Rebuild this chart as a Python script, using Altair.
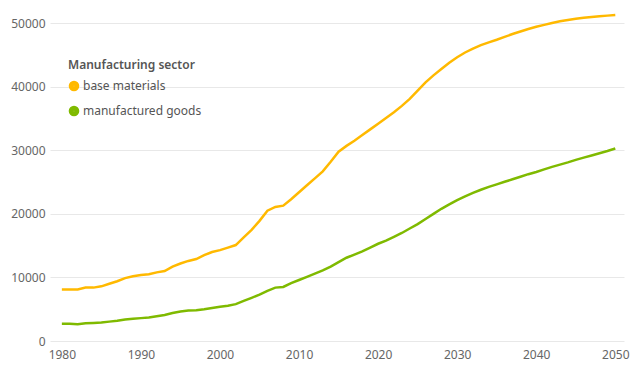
import altair as alt
import pandas as pd

years = list(range(1980, 2051))

base_materials = [
    8100, 8100, 8100, 8400, 8400, 8600, 9000, 9400, 9900, 10200,
    10400, 10500, 10800, 11000, 11700, 12200, 12600, 12900, 13500, 14000,
    14300, 14700, 15100, 16300, 17500, 18900, 20500, 21100, 21300, 22300,
    23400, 24500, 25600, 26700, 28200, 29800, 30700, 31500, 32400, 33300,
    34200, 35100, 36000, 37000, 38100, 39400, 40700, 41800, 42800, 43800,
    44650, 45400, 46000, 46550, 47000, 47400, 47850, 48300, 48700, 49100,
    49450, 49750, 50050, 50300, 50500, 50700, 50850, 51000, 51100, 51200,
    51300,
]

manufactured_goods = [
    2700, 2700, 2650, 2800, 2850, 2900, 3050, 3200, 3400, 3500,
    3600, 3700, 3900, 4100, 4400, 4650, 4800, 4850, 5000, 5200,
    5400, 5550, 5800, 6300, 6800, 7300, 7900, 8400, 8500, 9100,
    9600, 10100, 10600, 11100, 11700, 12400, 13100, 13600, 14100, 14700,
    15300, 15800, 16400, 17000, 17700, 18400, 19200, 20000, 20800, 21500,
    22150, 22750, 23300, 23800, 24250, 24650, 25050, 25450, 25850, 26250,
    26600, 27000, 27400, 27750, 28100, 28500, 28850, 29200, 29550, 29900,
    30300,
]

series_names = ["base materials", "manufactured goods"]
series_colors = ["#FFB900", "#7FBA00"]
x_ticks = [1980, 1990, 2000, 2010, 2020, 2030, 2040, 2050]
y_ticks = [0, 10000, 20000, 30000, 40000, 50000]

df = pd.concat([
    pd.DataFrame({"year": years, "value": base_materials, "sector": series_names[0]}),
    pd.DataFrame({"year": years, "value": manufactured_goods, "sector": series_names[1]}),
])

FONT = "Noto Sans"

chart = alt.Chart(df).mark_line(strokeWidth=2.5).encode(
    x=alt.X("year:Q",
            scale=alt.Scale(domain=[1978.5, 2051.1], nice=False, zero=False),
            axis=alt.Axis(values=x_ticks, format="d", title=None, grid=False,
                          ticks=False, domain=False, labelPadding=8,
                          labelColor="#666666", labelFontSize=12, labelFont=FONT)),
    y=alt.Y("value:Q",
            scale=alt.Scale(domain=[0, 52400], nice=False),
            axis=alt.Axis(values=y_ticks, format="d", title=None, grid=True,
                          gridColor="#e8e8e8", gridWidth=1, ticks=False,
                          domain=False, labelPadding=5, labelColor="#666666",
                          labelFontSize=12, labelFont=FONT)),
    color=alt.Color("sector:N",
                    scale=alt.Scale(domain=series_names, range=series_colors),
                    legend=alt.Legend(title="Manufacturing sector", orient="none",
                                      legendX=18, legendY=52,
                                      symbolType="circle", symbolSize=25,
                                      symbolStrokeWidth=5.6,
                                      titleFont=FONT, titleFontSize=12,
                                      titleFontWeight=600, titleColor="#555555",
                                      labelFont=FONT, labelFontSize=12,
                                      labelColor="#555555", rowPadding=-3,
                                      titlePadding=8, labelOffset=3)),
).properties(
    width=574,
    height=333,
    autosize=alt.AutoSizeParams(type="none"),
    padding={"left": 42, "top": 0, "right": 8, "bottom": 30},
).configure_view(stroke=None)

chart.save("out.html", embed_options={"renderer": "svg", "actions": False})
